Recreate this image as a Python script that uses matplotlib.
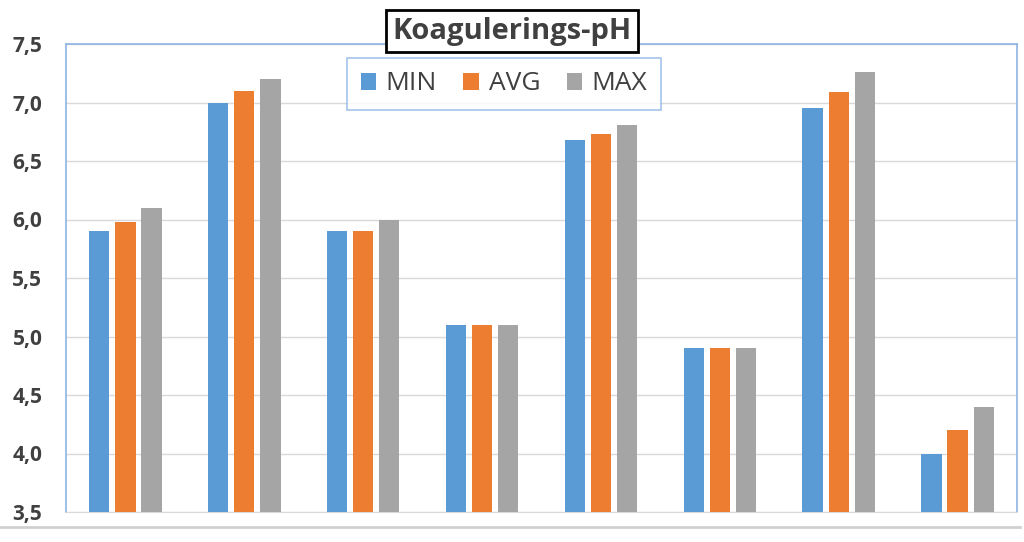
import numpy as np
import matplotlib.pyplot as plt
from matplotlib.ticker import FuncFormatter

series = ['MIN', 'AVG', 'MAX']
min_vals = [5.9, 7.0, 5.9, 5.1, 6.68, 4.9, 6.95, 4.0]
avg_vals = [5.98, 7.1, 5.9, 5.1, 6.73, 4.9, 7.09, 4.2]
max_vals = [6.1, 7.2, 6.0, 5.1, 6.81, 4.9, 7.26, 4.4]
colors = ['#5b9bd5', '#ed7d31', '#a5a5a5']

plt.rcParams['font.family'] = ['Open Sans', 'DejaVu Sans']

fig = plt.figure(figsize=(10.24, 5.42), dpi=100)
ax = fig.add_axes([66/1024, 1-512/542, 951/1024, 468/542])

x = np.arange(len(min_vals))
w = 0.17
step = 0.22
for i, (vals, c, name) in enumerate(zip([min_vals, avg_vals, max_vals], colors, series)):
    ax.bar(x + (i-1)*step, np.array(vals) - 3.5, width=w, bottom=3.5, color=c, label=name, zorder=3)

ax.set_xlim(-0.5, len(min_vals) - 0.5)
ax.set_ylim(3.5, 7.5)
ax.set_yticks(np.arange(3.5, 7.51, 0.5))
ax.yaxis.set_major_formatter(FuncFormatter(lambda v, p: f'{v:.1f}'.replace('.', ',')))
ax.set_xticks([])
ax.tick_params(axis='y', length=0, pad=17, labelsize=15, labelcolor='#404040')
for lab in ax.get_yticklabels():
    lab.set_fontweight('bold')
ax.grid(axis='y', color='#d9d9d9', linewidth=1, zorder=0)
for s in ['left', 'top', 'right']:
    ax.spines[s].set_color('#8eb4e3')
    ax.spines[s].set_linewidth(1.2)
ax.spines['bottom'].set_color('#d9d9d9')

# line at the bottom of the picture
fig.add_artist(plt.Line2D([0, 1020/1024], [1-527/542, 1-527/542], color='#d0d0d0', linewidth=2))

fig.text(512/1024, 1-31/542, 'Koagulerings-pH', ha='center', va='center', fontsize=21,
         fontweight='bold', color='#404040',
         bbox=dict(boxstyle='square,pad=0.22', facecolor='white', edgecolor='black', linewidth=2))

leg = ax.legend(loc='center', bbox_to_anchor=(504/1024, 1-84/542), bbox_transform=fig.transFigure,
                ncol=3, fontsize=19, frameon=True, fancybox=False, handlelength=0.6, handleheight=0.6,
                handletextpad=0.35, columnspacing=1.0, borderpad=0.5)
leg.get_frame().set_edgecolor('#8eb4e3')
leg.get_frame().set_linewidth(1.2)
for t in leg.get_texts():
    t.set_color('#404040')

fig.savefig('out.png', dpi=100)
